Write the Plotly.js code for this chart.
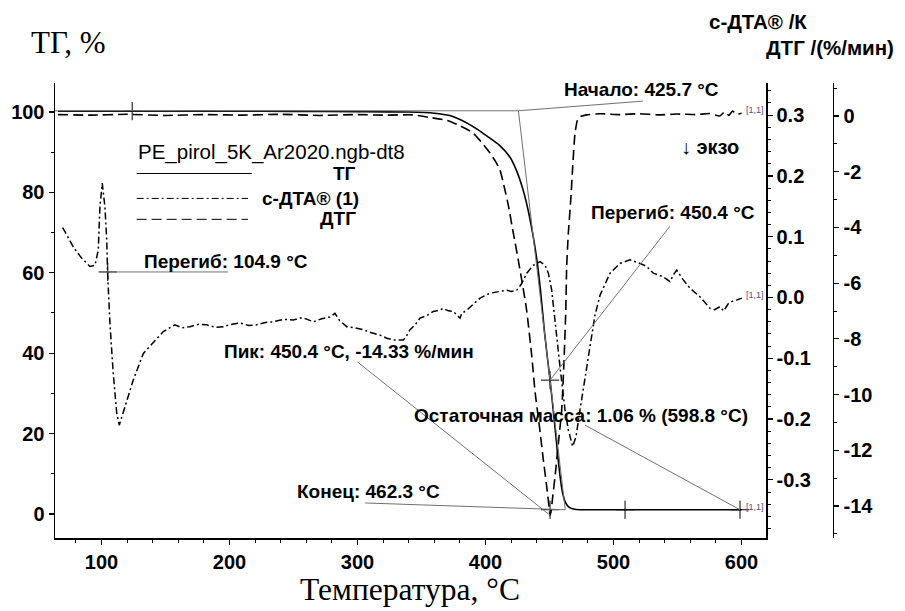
<!DOCTYPE html>
<html><head><meta charset="utf-8">
<script src="https://cdn.plot.ly/plotly-3.0.1.min.js"></script>
<style>html,body{margin:0;padding:0;background:#fff}#chart{width:905px;height:611px}</style>
</head><body><div id="chart"></div>
<script>
// ---- data ----
const tgT = [66,100,150,200,250,300,340,360,372,384,394,402,411,419,424,429,433,437,440,443,446,448.5,450.4,452.5,454.3,456,458,460,462,464.5,467,471,480,540,600];
const tgV = [100.2,100.2,100.2,100.2,100.15,100.1,100.0,99.7,99.1,97.5,95.6,93.8,91.7,88.8,85.6,81.0,76.0,69.5,63.5,55.5,45.5,38.5,33.3,27.0,21.5,16.0,10.0,5.6,3.2,1.9,1.4,1.12,1.06,1.06,1.06];

const dtaT = [69.7,74,78,84,91,94.9,97.5,98.8,100.6,102.7,104.1,104.8,106.6,109.2,111.9,113.9,118.4,124.8,132.7,141.8,148.3,157.4,163,169.1,176,182.2,189,195.2,202,208.2,215,221.2,228,234.2,242,249.8,257,265.5,272,278.5,282.4,286,291.6,298,304.5,311,317.6,323,328,335.8,338,341,345,348.8,354,359.2,364,367,371,374.8,378,380.1,381.5,385.3,390,395.7,403.5,410,416.6,420,424.4,428.3,432.2,437.3,442.6,446.5,449.1,451.7,453,455.6,458.2,462.1,464.7,468.1,470.7,473.8,477.7,481.6,485.5,489.5,497.3,505.1,512.9,520.7,525.9,531.1,538.9,544.1,547,549.4,554.5,559.8,567.6,575.4,579,583.2,586,589.7,593,596.2,600.2];
const dtaV = [0.115,0.098,0.083,0.066,0.051,0.053,0.078,0.149,0.188,0.149,0.095,0.040,-0.042,-0.125,-0.190,-0.210,-0.180,-0.136,-0.092,-0.070,-0.056,-0.045,-0.050,-0.048,-0.044,-0.045,-0.049,-0.048,-0.044,-0.042,-0.046,-0.045,-0.041,-0.040,-0.036,-0.037,-0.033,-0.040,-0.035,-0.032,-0.026,-0.038,-0.048,-0.050,-0.053,-0.058,-0.062,-0.067,-0.070,-0.070,-0.064,-0.053,-0.045,-0.034,-0.030,-0.023,-0.021,-0.018,-0.022,-0.023,-0.030,-0.034,-0.026,-0.021,-0.012,-0.001,0.007,0.010,0.012,0.010,0.012,0.023,0.040,0.053,0.059,0.053,0.040,0.012,-0.015,-0.070,-0.114,-0.185,-0.218,-0.245,-0.229,-0.185,-0.132,-0.078,-0.029,0.004,0.040,0.056,0.062,0.056,0.051,0.040,0.034,0.026,0.038,0.045,0.029,0.015,0.001,-0.018,-0.020,-0.015,-0.022,-0.010,-0.006,-0.004,-0.001];

const dtgT = [66,90,120,150,180,210,240,270,300,320,343,356,370,380,390,397,403.5,408,411.3,415.2,417.8,421.7,425.6,428.3,430.9,432.2,436.1,438.7,442,445.2,447.8,449.8,450.4,451.2,452.5,454.3,456.9,459.5,461.3,462.7,463.4,464.7,466.6,468.1,469.9,471.8,473.8,479,490,505,520,535,550,565,575,583,587,590,593,596,600];
const dtgV = [0.05,0.03,0.06,0.02,0.05,0.03,0.06,0.02,0.05,0.03,0.04,-0.05,-0.16,-0.35,-0.6,-0.95,-1.33,-1.65,-1.94,-2.66,-3.2,-4.2,-5.17,-5.89,-6.6,-7.0,-8.6,-9.9,-11.1,-12.35,-13.3,-14.1,-14.33,-14.2,-13.66,-12.95,-11.75,-10.55,-8.8,-7.0,-5.4,-4.2,-3.0,-1.82,-0.62,-0.15,-0.03,0.04,0.08,0.05,0.08,0.04,0.07,0.05,0.09,0.0,0.15,0.02,0.18,0.06,0.1];

// evaluation results
const onsetT = 425.7, endT = 462.3, inflT = 450.4, inflTG = 33.3, peakDTG = -14.33;
const residual = 1.06, residualT = 598.8, baseTG = 100.3, inflDTA_T = 104.9, inflDTA = 0.042;
const markTGx = [124, inflT, inflT, 509, residualT];
const markTGy = [100.2, inflTG, residual, residual, residual];

// tick labels
const xTicks = [100,200,300,400,500,600];
const tgTicks = [0,20,40,60,80,100];
const dtaTicks = [-0.3,-0.2,-0.1,0.0,0.1,0.2,0.3];
const dtaText = ['-0.3','-0.2','-0.1','0.0','0.1','0.2','0.3'];
const dtgTicks = [0,-2,-4,-6,-8,-10,-12,-14];
const dtgText = ['0','-2','-4','-6','-8','-10','-12','-14'];

const SANS = 'Liberation Sans, Arial, sans-serif';
const SERIF = 'Liberation Serif, Times New Roman, serif';
const tickFont = {family: SANS, size: 20, color: '#000', weight: 'bold'};
const lblFont = {family: SANS, size: 19, color: '#000', weight: 'bold'};
const axTitleFont = {family: SANS, size: 20.5, color: '#000', weight: 'bold'};

const traces = [
  {x: tgT, y: tgV, type: 'scatter', mode: 'lines', line: {color: '#000', width: 1.6, shape: 'spline', smoothing: 0.6}, yaxis: 'y', hoverinfo: 'skip'},
  {x: dtaT, y: dtaV, type: 'scatter', mode: 'lines', line: {color: '#000', width: 1.5, dash: '7px,3px,2px,3px'}, yaxis: 'y2', hoverinfo: 'skip'},
  {x: dtgT, y: dtgV, type: 'scatter', mode: 'lines', line: {color: '#000', width: 1.6, dash: '10px,5px', shape: 'spline', smoothing: 0.5}, yaxis: 'y3', hoverinfo: 'skip'},
  {x: markTGx, y: markTGy, type: 'scatter', mode: 'markers', marker: {symbol: 'cross-thin', size: 13, line: {color: '#000', width: 1}}, yaxis: 'y', hoverinfo: 'skip'},
  {x: [inflDTA_T], y: [inflDTA], type: 'scatter', mode: 'markers', marker: {symbol: 'cross-thin', size: 13, line: {color: '#000', width: 1}}, yaxis: 'y2', hoverinfo: 'skip'}
];

const gray = {color: '#707070', width: 1};
const shapes = [
  {type: 'line', xref: 'x', yref: 'y', x0: 63.7, y0: baseTG, x1: onsetT, y1: baseTG, line: gray},
  {type: 'line', xref: 'x', yref: 'y', x0: onsetT, y0: baseTG, x1: 523, y1: 102.7, line: gray},
  {type: 'line', xref: 'x', yref: 'y', x0: onsetT, y0: baseTG, x1: endT, y1: residual, line: gray},
  {type: 'line', xref: 'x', yref: 'y', x0: 305.9, y0: 2.74, x1: endT, y1: residual, line: gray},
  {type: 'line', xref: 'x', yref: 'y', x0: 544.1, y0: 71.6, x1: inflT, y1: inflTG, line: gray},
  {type: 'line', xref: 'x', yref: 'y3', x0: 300, y0: -8.83, x1: inflT, y1: peakDTG, line: gray},
  {type: 'line', xref: 'x', yref: 'y', x0: 477.7, y0: 22.1, x1: residualT, y1: residual, line: gray},
  {type: 'line', xref: 'x', yref: 'y2', x0: 100.2, y0: inflDTA, x1: 199, y1: inflDTA, line: gray},
  // legend samples
  {type: 'line', xref: 'x', yref: 'y', x0: 127.5, y0: 84.7, x1: 217.4, y1: 84.7, line: {color: '#000', width: 1}},
  {type: 'line', xref: 'x', yref: 'y', x0: 127.5, y0: 78.5, x1: 214.5, y1: 78.5, line: {color: '#000', width: 1, dash: '7px,3px,2px,3px'}},
  {type: 'line', xref: 'x', yref: 'y', x0: 127.5, y0: 73.3, x1: 214.5, y1: 73.3, line: {color: '#000', width: 1, dash: '10px,5px'}}
];

function ann(text, x, y, xanchor, font, xref, yref) {
  return {text: text, x: x, y: y, xref: xref || 'x', yref: yref || 'y', xanchor: xanchor, yanchor: 'middle', showarrow: false, font: font, borderpad: 0};
}
const smallFont = {family: SANS, size: 9, color: '#5a4a80'};
const annotations = [
  ann('ТГ, %', -0.0316, 1.088, 'left', {family: SERIF, size: 31, color: '#000'}, 'paper', 'paper'),
  ann('с-ДТА® /К', 0.8266, 1.136, 'left', axTitleFont, 'paper', 'paper'),
  ann('ДТГ /(%/мин)', 0.8987, 1.077, 'left', axTitleFont, 'paper', 'paper'),
  ann('Температура, °С', 0.449, -0.114, 'center', {family: SERIF, size: 31.5, color: '#000'}, 'paper', 'paper'),
  ann('Начало: 425.7 °С', 460.7, 105.5, 'left', lblFont),
  ann('Перегиб: 450.4 °С', 481.6, 74.9, 'left', lblFont),
  ann('↓ экзо', 551.9, 91.3, 'left', {family: SANS, size: 20, color: '#000', weight: 'bold'}),
  ann('Перегиб: 104.9 °С', 132.7, 62.7, 'left', lblFont),
  ann('Пик: 450.4 °С, -14.33 %/мин', 194.9, 40.5, 'left', lblFont),
  ann('Остаточная масса: 1.06 % (598.8 °С)', 343.4, 24.6, 'left', lblFont),
  ann('Конец: 462.3 °С', 251.9, 5.5, 'left', lblFont),
  ann('PE_pirol_5K_Ar2020.ngb-dt8', 127.5, 90.0, 'left', {family: SANS, size: 20.5, color: '#000'}),
  ann('ТГ', 299.6, 84.8, 'right', lblFont),
  ann('с-ДТА® (1)', 302.0, 78.4, 'right', lblFont),
  ann('ДТГ', 299.6, 73.4, 'right', lblFont),
  ann('[1,1]', 602.7, 100.6, 'left', smallFont),
  ann('[1,1]', 602.7, 54.6, 'left', smallFont),
  ann('[1,1]', 602.7, 1.8, 'left', smallFont)
];

const axBase = {showline: true, linecolor: '#000', linewidth: 1.5, ticks: 'outside', ticklen: 5, tickwidth: 1.2, tickcolor: '#000', showgrid: false, zeroline: false, tickfont: tickFont, fixedrange: true};

const layout = {
  width: 905, height: 611,
  margin: {l: 55, r: 60, t: 83, b: 73, pad: 0},
  paper_bgcolor: '#fff', plot_bgcolor: '#fff',
  showlegend: false,
  xaxis: Object.assign({}, axBase, {domain: [0, 0.9], range: [63.7, 619.1], tickmode: 'array', tickvals: xTicks,
    minor: {tickmode: 'linear', tick0: 0, dtick: 20, ticks: 'outside', ticklen: 3, tickcolor: '#000', tickwidth: 1}}),
  yaxis: Object.assign({}, axBase, {range: [-5.97, 107.21], tickmode: 'array', tickvals: tgTicks,
    minor: {tickmode: 'linear', tick0: 0, dtick: 10, ticks: 'outside', ticklen: 3, tickcolor: '#000', tickwidth: 1}}),
  yaxis2: Object.assign({}, axBase, {overlaying: 'y', side: 'right', anchor: 'x', range: [-0.3956, 0.3528], tickmode: 'array', tickvals: dtaTicks, ticktext: dtaText,
    minor: {tickmode: 'linear', tick0: 0, dtick: 0.02, ticks: 'outside', ticklen: 3, tickcolor: '#000', tickwidth: 1}}),
  yaxis3: Object.assign({}, axBase, {overlaying: 'y', side: 'right', anchor: 'free', position: 0.9848, range: [-15.147, 1.184], tickmode: 'array', tickvals: dtgTicks, ticktext: dtgText,
    minor: {tickmode: 'linear', tick0: 0, dtick: 1, ticks: 'outside', ticklen: 3, tickcolor: '#000', tickwidth: 1}}),
  shapes: shapes,
  annotations: annotations
};

Plotly.newPlot('chart', traces, layout, {staticPlot: true, displayModeBar: false});
</script>
</body></html>
